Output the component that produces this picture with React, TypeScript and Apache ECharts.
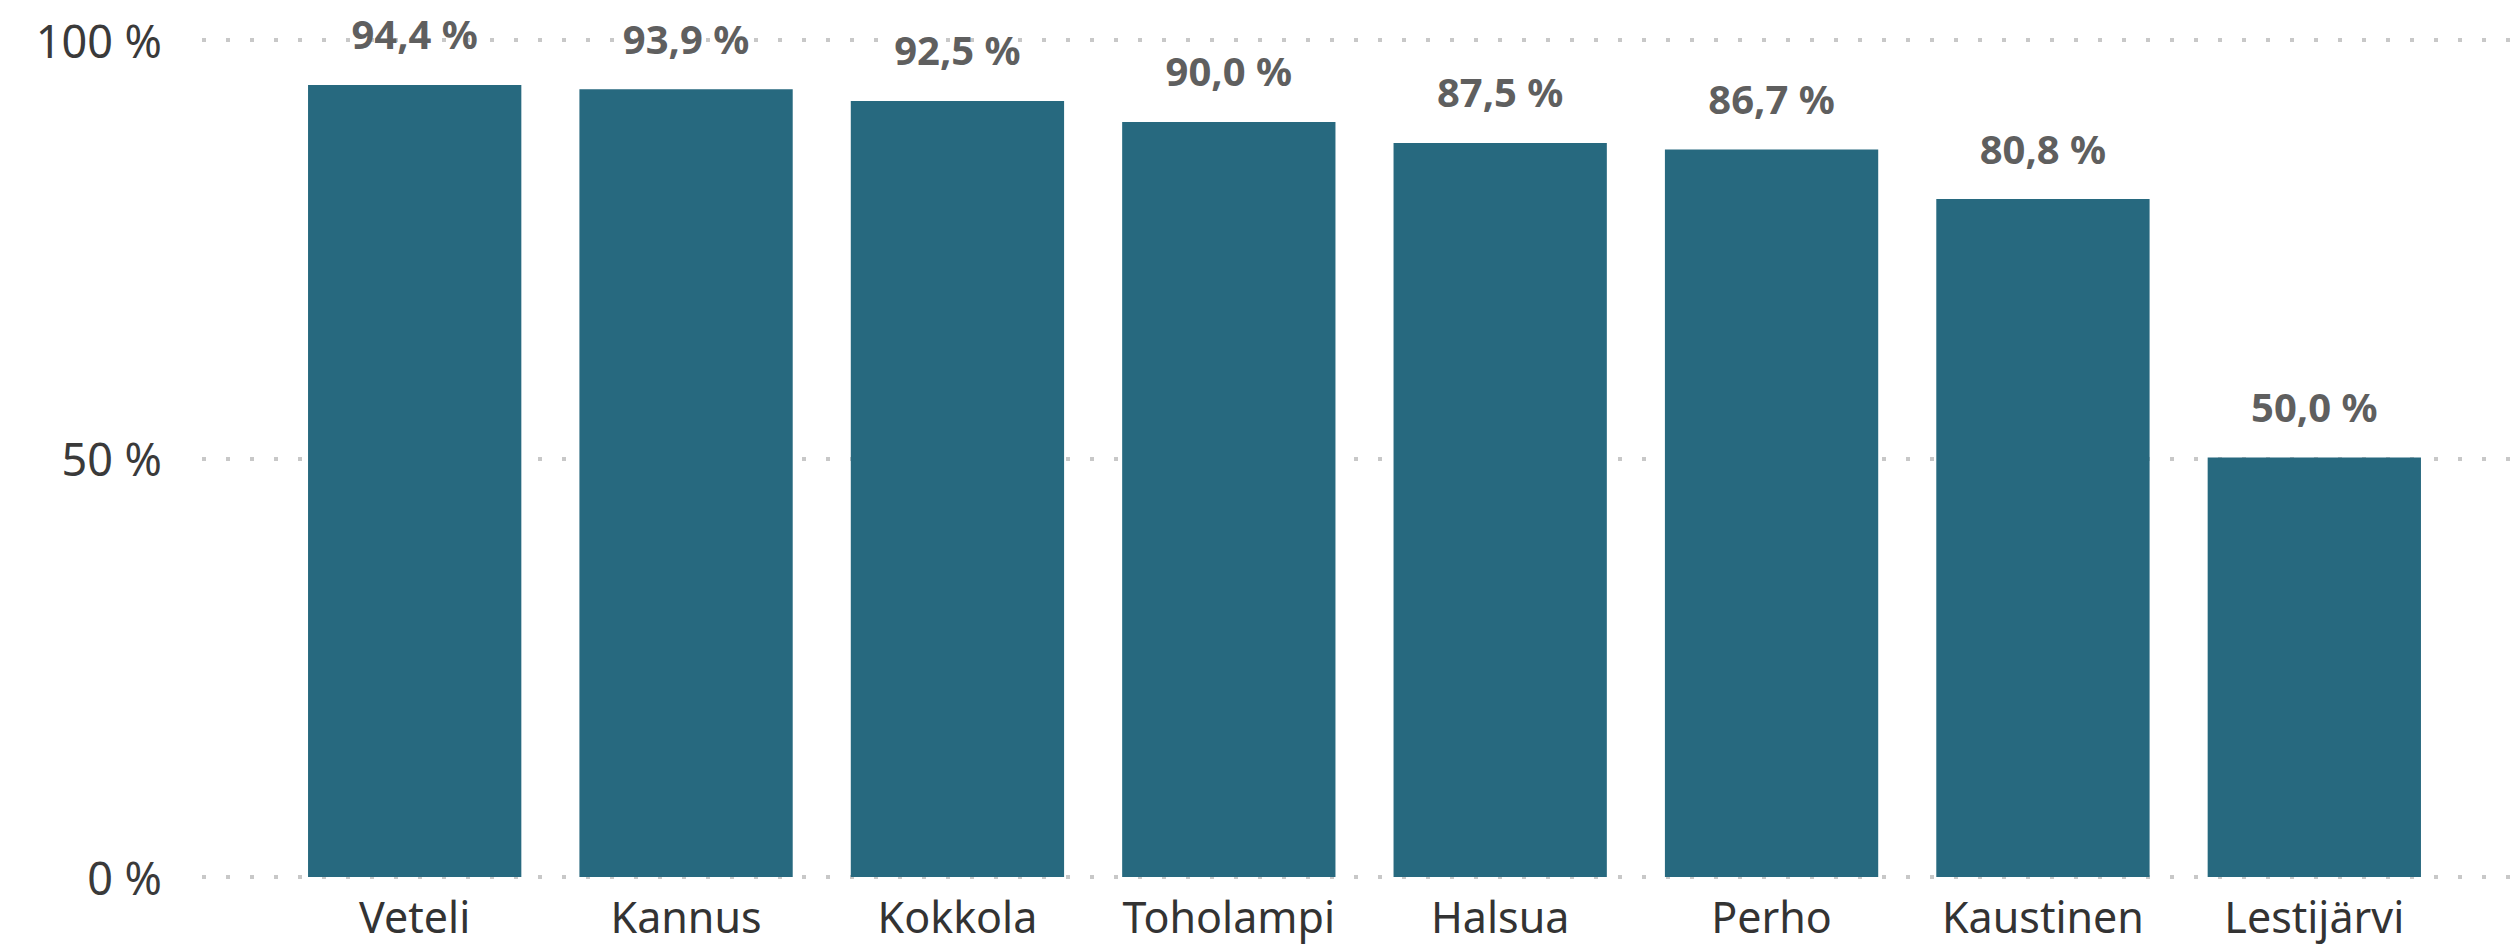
import React, { useEffect, useRef } from "react";
import * as echarts from "echarts";

const categories = ["Veteli", "Kannus", "Kokkola", "Toholampi", "Halsua", "Perho", "Kaustinen", "Lestijärvi"];
const values = [94.4, 93.9, 92.5, 90.0, 87.5, 86.7, 80.8, 50.0];
const yTicks = [0, 50, 100];

const FONT = "'Noto Sans', 'Open Sans', sans-serif";

export default function App() {
  const ref = useRef<HTMLDivElement>(null);
  useEffect(() => {
    document.body.style.margin = "0";
    if (!ref.current) return;
    const chart = echarts.init(ref.current, null, { renderer: "svg" });
    chart.setOption({
      animation: false,
      backgroundColor: "#ffffff",
      grid: [
        { left: 279, right: 70, top: 38, bottom: 71 },
        { left: 202, right: 10, top: 40, bottom: 71 },
      ],
      xAxis: [
        {
          type: "category",
          gridIndex: 0,
          data: categories,
          axisLine: { show: false },
          axisTick: { show: false },
          axisLabel: { interval: 0, color: "#333333", fontSize: 43, fontFamily: FONT, margin: 18 },
        },
        { type: "value", gridIndex: 1, show: false, min: 0, max: 1 },
      ],
      yAxis: [
        {
          type: "value",
          gridIndex: 0,
          min: 0,
          max: 100,
          interval: 50,
          show: false,
          splitLine: { show: false },
        },
        {
          type: "value",
          gridIndex: 1,
          min: yTicks[0],
          max: yTicks[yTicks.length - 1],
          interval: 50,
          axisLine: { show: false },
          axisTick: { show: false },
          axisLabel: {
            color: "#3a3a3a",
            fontSize: 45,
            fontFamily: FONT,
            margin: 40,
            formatter: (v: number) => `${v} %`,
          },
          splitLine: {
            show: true,
            lineStyle: { color: "#c8c8c8", width: 4, type: [4, 20] },
          },
        },
      ],
      series: [
        {
          type: "bar",
          xAxisIndex: 0,
          yAxisIndex: 0,
          data: values,
          barCategoryGap: "21.4%",
          itemStyle: { color: "#27697f" },
          label: {
            show: true,
            position: "top",
            distance: 31,
            color: "#5f5f5f",
            fontSize: 40,
            fontWeight: "bold",
            fontFamily: FONT,
            formatter: (p: any) => `${Number(p.value).toFixed(1).replace(".", ",")} %`,
          },
        },
      ],
    });
    return () => chart.dispose();
  }, []);
  return <div ref={ref} style={{ width: 2520, height: 948 }} />;
}
